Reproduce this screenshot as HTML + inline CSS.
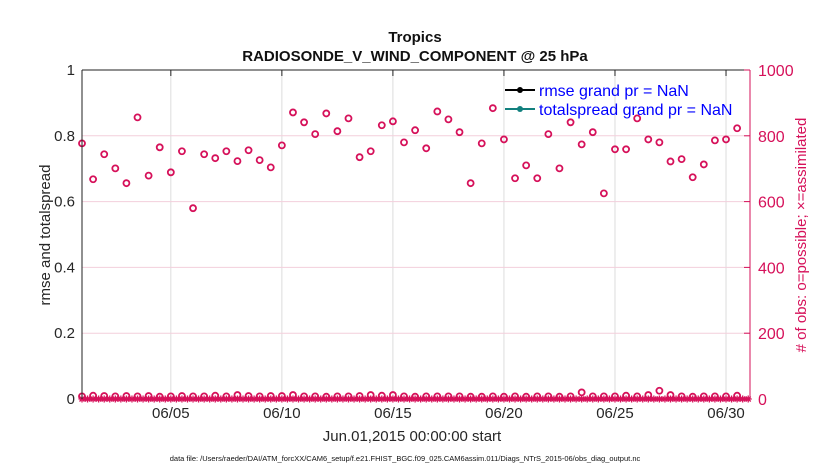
<!DOCTYPE html>
<html><head><meta charset="utf-8"><style>
body{margin:0;background:#fff;width:830px;height:470px;overflow:hidden;font-family:"Liberation Sans",sans-serif}
svg text{font-family:"Liberation Sans",sans-serif}
</style></head><body>
<svg id="chart" width="830" height="470">
<g id="grid"></g><g id="marks"></g><g id="axes"></g>
</svg>
<script>
const dayTicks=[4,9,14,19,24,29];
const dayTickLabels=["06/05","06/10","06/15","06/20","06/25","06/30"];
const leftTicks=[0,0.2,0.4,0.6,0.8,1];
const leftTickLabels=["0","0.2","0.4","0.6","0.8","1"];
const rightTicks=[0,200,400,600,800,1000];
const rightTickLabels=["0","200","400","600","800","1000"];
const possibleObs=[777,668,744,701,656,856,679,765,689,753,580,744,732,753,723,756,726,704,771,871,841,805,868,814,853,735,753,832,844,780,817,762,874,850,811,656,777,884,789,671,710,671,805,701,841,774,811,625,759,759,853,789,780,722,729,674,713,786,789,823];
const lowPossible=[8,10,9,8,9,8,9,7,8,9,8,8,10,8,12,9,8,9,9,12,8,8,7,8,8,9,12,10,12,8,7,8,8,8,8,7,7,8,7,8,7,8,8,7,8,20,8,8,8,10,8,12,25,12,8,7,8,8,8,10];
const assimilated=new Array(121).fill(0);
const NS="http://www.w3.org/2000/svg";
const L=82,R=750,T=70,B=399,D0=0,D1=30.08;
const x=d=>L+(d-D0)/(D1-D0)*(R-L);
const yl=v=>B-v*(B-T);
const yr=v=>B-v/1000*(B-T);
const RED="#d6115a";
function mk(tag,attrs,parent,txt){const e=document.createElementNS(NS,tag);for(const k in attrs)e.setAttribute(k,attrs[k]);if(txt!==undefined)e.textContent=txt;document.getElementById(parent).appendChild(e);return e;}
dayTicks.forEach((d,i)=>{const e=mk('line',{x1:x(d),x2:x(d),y1:T,y2:B,stroke:'#dcdcdc','stroke-width':1},'grid');

});
rightTicks.forEach(v=>{if(v===0||v===1000)return;const e=mk('line',{x1:L,x2:R,y1:yr(v),y2:yr(v),stroke:'#f3cfdc','stroke-width':1},'grid');

});
assimilated.forEach((v,i)=>{const cx=x(i*0.25),cy=yr(v);const g=mk('g',{stroke:RED,'stroke-width':1.3},'marks');


[[0,-3.5,0,3.5],[-3.5,0,3.5,0],[-2.5,-2.5,2.5,2.5],[-2.5,2.5,2.5,-2.5]].forEach(s=>{const l=document.createElementNS(NS,'line');l.setAttribute('x1',cx+s[0]);l.setAttribute('y1',cy+s[1]);l.setAttribute('x2',cx+s[2]);l.setAttribute('y2',cy+s[3]);g.appendChild(l);});});
mk('line',{x1:L,x2:R,y1:B,y2:B,stroke:RED,'stroke-width':3},'marks');
lowPossible.forEach((v,i)=>{const c=mk('circle',{cx:x(i*0.5),cy:yr(v),r:3,fill:'none',stroke:RED,'stroke-width':1.8},'marks');

});
possibleObs.forEach((v,i)=>{const c=mk('circle',{cx:x(i*0.5),cy:yr(v),r:3,fill:'none',stroke:RED,'stroke-width':1.8},'marks');

});
mk('line',{x1:L,x2:L,y1:T,y2:B,stroke:'#222','stroke-width':1},'axes');
mk('line',{x1:L,x2:R,y1:T,y2:T,stroke:'#222','stroke-width':1},'axes');
mk('line',{x1:R,x2:R,y1:T,y2:B,stroke:RED,'stroke-width':1},'axes');
dayTicks.forEach((d,i)=>{mk('line',{x1:x(d),x2:x(d),y1:T,y2:T+6,stroke:'#222'},'axes');
const t=mk('text',{x:x(d),y:418,'font-size':15,'text-anchor':'middle',fill:'#262626'},'axes',dayTickLabels[i]);

});
leftTicks.forEach((v,i)=>{const t=mk('text',{x:L-7,y:yl(v)+5,'font-size':15,'text-anchor':'end',fill:'#262626'},'axes',leftTickLabels[i]);

});
rightTicks.forEach((v,i)=>{mk('line',{x1:R-6,x2:R,y1:yr(v),y2:yr(v),stroke:RED},'axes');
const t=mk('text',{x:R+8,y:yr(v)+6,'font-size':16,fill:RED},'axes',rightTickLabels[i]);

});
</script>
<svg width="830" height="470" style="position:absolute;left:0;top:0">
<text x="415" y="42" font-size="15" font-weight="bold" text-anchor="middle" fill="#111">Tropics</text>
<text x="415" y="61" font-size="15" font-weight="bold" text-anchor="middle" fill="#111">RADIOSONDE_V_WIND_COMPONENT @ 25 hPa</text>
<text transform="translate(50,235) rotate(-90)" font-size="15" text-anchor="middle" fill="#262626">rmse and totalspread</text>
<text transform="translate(806,235) rotate(-90)" font-size="15" text-anchor="middle" fill="#d6115a"># of obs: o=possible; ×=assimilated</text>
<text x="412" y="441" font-size="15" text-anchor="middle" fill="#262626">Jun.01,2015 00:00:00 start</text>
<text x="405" y="461" font-size="7.5" text-anchor="middle" fill="#111">data file: /Users/raeder/DAI/ATM_forcXX/CAM6_setup/f.e21.FHIST_BGC.f09_025.CAM6assim.011/Diags_NTrS_2015-06/obs_diag_output.nc</text>
<g>
<line x1="505" y1="90" x2="535" y2="90" stroke="#000" stroke-width="2"/><circle cx="520" cy="90" r="3" fill="#000"/>
<text x="539" y="96" font-size="16" fill="#0000ff">rmse grand pr = NaN</text>
<line x1="505" y1="109" x2="535" y2="109" stroke="#12807e" stroke-width="2"/><circle cx="520" cy="109" r="3" fill="#12807e"/>
<text x="539" y="115" font-size="16" fill="#0000ff">totalspread grand pr = NaN</text>
</g>
</svg>
</body></html>
